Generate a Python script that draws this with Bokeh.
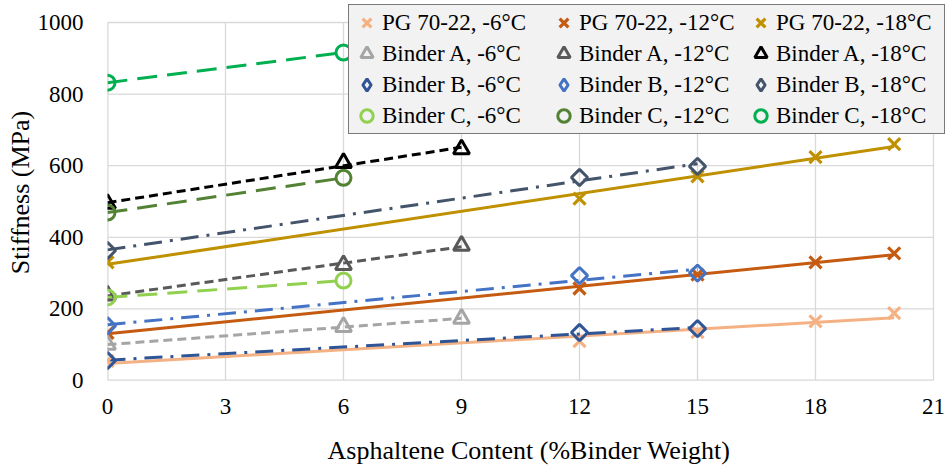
import numpy as np
from bokeh.plotting import figure
from bokeh.models import Legend, LegendItem, FixedTicker
from bokeh.embed import file_html
from bokeh.resources import INLINE

# ---- data ----
x_pg = [0, 12, 15, 18, 20]
pg_m6 = [55, 110, 135, 165, 188]
pg_m12 = [133, 257, 296, 330, 355]
pg_m18 = [330, 508, 570, 624, 660]

x_a = [0, 6, 9]
a_m6 = [100, 150, 173]
a_m12 = [238, 323, 377]
a_m18 = [494, 608, 646]

x_b = [0, 12, 15]
b_m6 = [56, 134, 145]
b_m12 = [153, 293, 300]
b_m18 = [363, 567, 598]

x_c = [0, 6]
c_m6 = [232, 279]
c_m12 = [469, 566]
c_m18 = [832, 916]

x_ticks = [0, 3, 6, 9, 12, 15, 18, 21]
y_ticks = [0, 200, 400, 600, 800, 1000]

series = [
    ("PG 70-22, -6°C", x_pg, pg_m6, "#f4b183", "x", "solid"),
    ("PG 70-22, -12°C", x_pg, pg_m12, "#c55a11", "x", "solid"),
    ("PG 70-22, -18°C", x_pg, pg_m18, "#bf9000", "x", "solid"),
    ("Binder A, -6°C", x_a, a_m6, "#a5a5a5", "triangle", "9 5"),
    ("Binder A, -12°C", x_a, a_m12, "#595959", "triangle", "9 5"),
    ("Binder A, -18°C", x_a, a_m18, "#000000", "triangle", "9 5"),
    ("Binder B, -6°C", x_b, b_m6, "#2f5597", "diamond", "18 8 3 8"),
    ("Binder B, -12°C", x_b, b_m12, "#4472c4", "diamond", "18 8 3 8"),
    ("Binder B, -18°C", x_b, b_m18, "#44546a", "diamond", "18 8 3 8"),
    ("Binder C, -6°C", x_c, c_m6, "#92d050", "circle", "20 10"),
    ("Binder C, -12°C", x_c, c_m12, "#548235", "circle", "20 10"),
    ("Binder C, -18°C", x_c, c_m18, "#00b050", "circle", "20 10"),
]

FONT = "Liberation Serif"

# frame spans a little beyond the last ticks so the legend box (which overlaps
# the plot's top-right corner) is not clipped; grid lines stop at the last tick
x_end = max(x_ticks) * 843.0 / 826.0
y_end = max(y_ticks) * 376.0 / 358.0

p = figure(width=950, height=472, x_range=(0, x_end), y_range=(0, y_end),
           output_backend="svg", toolbar_location=None,
           min_border_left=107, min_border_right=0,
           min_border_top=4, min_border_bottom=92)
p.outline_line_color = None
p.background_fill_color = "white"
p.border_fill_color = "white"
p.xgrid.visible = False
p.ygrid.visible = False

for ax in (p.xaxis, p.yaxis):
    ax.axis_line_color = None
    ax.major_tick_line_color = None
    ax.minor_tick_line_color = None
    ax.major_label_text_font = FONT
    ax.major_label_text_font_size = "23px"
    ax.major_label_text_color = "black"
    ax.axis_label_text_font = FONT
    ax.axis_label_text_font_size = "26px"
    ax.axis_label_text_font_style = "normal"
    ax.axis_label_text_color = "black"

p.xaxis.ticker = FixedTicker(ticks=x_ticks)
p.yaxis.ticker = FixedTicker(ticks=y_ticks)
p.xaxis.axis_label = "Asphaltene Content (%Binder Weight)"
p.yaxis.axis_label = "Stiffness (MPa)"
p.xaxis.major_label_standoff = 12
p.xaxis.axis_label_standoff = 19
p.yaxis.major_label_standoff = 18
p.yaxis.axis_label_standoff = 0

# grid lines limited to the tick extent
nx, ny = len(x_ticks), len(y_ticks)
p.segment(x0=x_ticks, y0=[min(y_ticks)] * nx, x1=x_ticks, y1=[max(y_ticks)] * nx,
          line_color="#d9d9d9", line_width=1.3)
p.segment(x0=[min(x_ticks)] * ny, y0=y_ticks, x1=[max(x_ticks)] * ny, y1=y_ticks,
          line_color="#d9d9d9", line_width=1.3)
# axis lines
p.segment(x0=[min(x_ticks)], y0=[min(y_ticks)], x1=[max(x_ticks)], y1=[min(y_ticks)],
          line_color="#d9d9d9", line_width=2)
p.segment(x0=[min(x_ticks)], y0=[min(y_ticks)], x1=[min(x_ticks)], y1=[max(y_ticks)],
          line_color="#d9d9d9", line_width=2)

for label, xs, ys, color, marker, dash in series:
    # linear trendline (least-squares fit) over the series' x extent
    k, b = np.polyfit(np.array(xs, float), np.array(ys, float), 1)
    tx = np.array([min(xs), max(xs)], float)
    p.line(tx, k * tx + b, line_color=color, line_width=3, line_dash=dash)

items = []
for label, xs, ys, color, marker, dash in series:
    if marker == "diamond":
        r = p.scatter(xs, ys, marker="square", angle=np.pi / 4, size=11.5,
                      line_color=color, line_width=3, fill_color=None)
        # hidden twin used only for the legend swatch (legend ignores marker angle)
        lr = p.scatter(xs, ys, marker="diamond", size=14,
                       line_color=color, line_width=3, fill_color=None, visible=False)
    elif marker == "x":
        r = p.scatter(xs, ys, marker="x", size=17, line_color=color, line_width=3.2)
        lr = r
    elif marker == "triangle":
        r = p.scatter(xs, ys, marker="triangle", size=16, line_color=color,
                      line_width=3, fill_color=None)
        lr = r
    else:
        r = p.scatter(xs, ys, marker="circle", size=15, line_color=color,
                      line_width=3, fill_color=None)
        lr = r
    items.append(LegendItem(label=label, renderers=[lr]))

legend = Legend(items=items, ncols=3, orientation="horizontal",
                location=(241, 246))
legend.label_text_font = FONT
legend.label_text_font_size = "23px"
legend.label_text_color = "black"
legend.glyph_width = 31
legend.glyph_height = 31
legend.label_standoff = 0
legend.label_width = 166
legend.spacing = 0
legend.padding = 2
legend.margin = 0
legend.border_line_color = "black"
legend.border_line_width = 1.5
legend.background_fill_color = "#f2f2f2"
legend.background_fill_alpha = 1.0
legend.inactive_fill_alpha = 0.0
p.add_layout(legend)

open("out.html", "w").write(file_html(p, INLINE))
